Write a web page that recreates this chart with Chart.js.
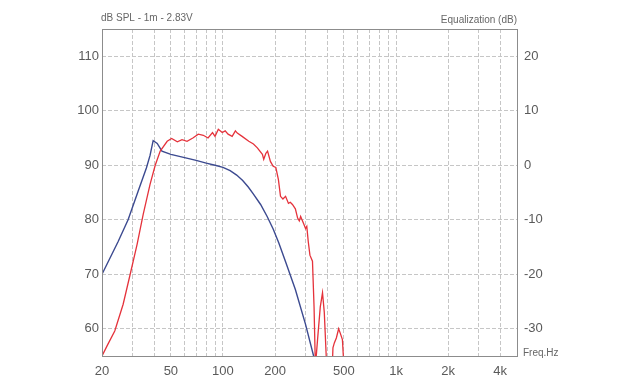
<!DOCTYPE html>
<html lang="en">
<head>
    <meta charset="UTF-8">
    <title>SPL / Equalization</title>
    <script src="https://cdn.jsdelivr.net/npm/chart.js@4.4.1/dist/chart.umd.min.js"></script>
    <style>
        body { margin: 0; background: #fff; }
        #wrap { width: 626px; height: 385px; }
    </style>
</head>
<body>
<div id="wrap"><canvas id="chart"></canvas></div>
<script>
    // frequency response, red curve (Hz / dB SPL)
    const redFreq = [20, 21.5, 23.7, 26.5, 29.1, 31.9, 34.6, 37.9, 40.6, 43.4, 47.6, 50.5, 54.5, 58, 62, 67, 72, 77, 82, 87,
        90, 94, 99, 103, 107, 113, 118, 121, 129, 141, 150, 158, 169, 172, 177, 181, 188, 195, 202, 209,
        215, 222, 230, 239, 245, 252, 262, 270, 276, 281, 293, 300, 305, 311, 318, 329, 336, 342, 352, 365,
        376, 385, 395, 402, 425, 432, 440, 452, 466, 476, 490, 500];
    const redSpl = [55, 57, 59.6, 64.5, 70, 75.5, 81, 86.5, 90, 92.6, 94.4, 94.9, 94.3, 94.7, 94.4, 95, 95.7, 95.5, 95, 96,
        95.3, 96.6, 96, 96.3, 95.7, 95.3, 96.3, 95.9, 95.3, 94.4, 93.9, 93.2, 92, 91.1, 92.2, 92.6, 90.7, 89.8, 89.6, 87.4,
        84.3, 83.8, 84.3, 83, 83.2, 82.8, 82, 80.3, 79.8, 80.6, 79.2, 78.4, 78.8, 76, 73.5, 72.4, 64, 53, 58, 64,
        66.6, 63, 55, 50, 50, 56.5, 57.4, 58.3, 60, 59.2, 58, 53];

    // blue curve
    const blueFreq = [20, 24.8, 28.3, 32.3, 36.1, 37.9, 39.5, 41.7, 44.4, 50, 60, 70, 80, 90, 100, 110, 120, 130, 140, 150,
        165, 180, 195, 210, 230, 262, 300, 334, 360];
    const blueSpl = [70, 76, 80, 85.2, 89.5, 91.8, 94.5, 94, 92.6, 92, 91.4, 90.9, 90.4, 90, 89.6, 89, 88.2, 87.2, 86, 84.7,
        82.8, 80.6, 78.3, 75.8, 72.3, 67.2, 60.8, 55, 50.5];

    // axes
    const gridFreqs = [20, 30, 40, 50, 60, 70, 80, 90, 100, 200, 300, 400, 500, 600, 700, 800, 900, 1000, 2000, 3000, 4000, 5000];
    const labelFreqs = [20, 50, 100, 200, 500, 1000, 2000, 4000];
    const labelTexts = ['20', '50', '100', '200', '500', '1k', '2k', '4k'];
    const splTicks = [60, 70, 80, 90, 100, 110];
    const eqTicks = [-30, -20, -10, 0, 10, 20];

    const toPoints = (xs, ys) => xs.map((x, i) => ({ x: x, y: ys[i] }));

    const font = { family: '"Liberation Sans", Arial, sans-serif', size: 13 };
    const gridColor = '#c6c6c6';

    // outer frame and the three small captions
    const frame = {
        id: 'frame',
        afterDraw(chart) {
            const { ctx, chartArea: a } = chart;
            ctx.save();
            ctx.strokeStyle = '#8c8c8c';
            ctx.lineWidth = 1;
            ctx.strokeRect(Math.round(a.left) + 0.5, Math.round(a.top) + 0.5,
                Math.round(a.right - a.left), Math.round(a.bottom - a.top));
            ctx.font = '10px "Liberation Sans", Arial, sans-serif';
            ctx.fillStyle = '#666';
            ctx.textAlign = 'left';
            ctx.fillText('dB SPL - 1m - 2.83V', a.left - 1, a.top - 8);
            ctx.textAlign = 'right';
            ctx.fillText('Equalization (dB)', a.right, a.top - 6);
            ctx.textAlign = 'left';
            ctx.fillText('Freq.Hz', a.right + 6, a.bottom);
            ctx.restore();
        }
    };

    new Chart(document.getElementById('chart'), {
        type: 'line',
        data: {
            datasets: [
                {
                    label: 'SPL',
                    data: toPoints(redFreq, redSpl),
                    borderColor: '#e5323b',
                    borderWidth: 1.3,
                    pointRadius: 0,
                    tension: 0,
                    clip: 0
                },
                {
                    label: 'SPL 2',
                    data: toPoints(blueFreq, blueSpl),
                    borderColor: '#3c4a90',
                    borderWidth: 1.4,
                    pointRadius: 0,
                    tension: 0,
                    clip: 0
                }
            ]
        },
        options: {
            responsive: true,
            maintainAspectRatio: false,
            animation: false,
            layout: { padding: { top: 29, left: 0, right: 0, bottom: 0 } },
            plugins: {
                legend: { display: false },
                title: { display: false },
                tooltip: { enabled: false }
            },
            scales: {
                x: {
                    type: 'logarithmic',
                    min: 20,
                    max: 5000,
                    afterBuildTicks: s => { s.ticks = gridFreqs.map(v => ({ value: v })); },
                    afterFit: s => { s.height = 29; },
                    ticks: {
                        autoSkip: false,
                        maxRotation: 0,
                        padding: 8,
                        color: '#5a5a5a',
                        font: font,
                        callback: v => {
                            const i = labelFreqs.indexOf(v);
                            return i >= 0 ? labelTexts[i] : '';
                        }
                    },
                    grid: { color: gridColor, drawTicks: false },
                    border: { display: false, dash: [4, 2] }
                },
                y: {
                    position: 'left',
                    min: 55,
                    max: 115,
                    afterBuildTicks: s => { s.ticks = splTicks.map(v => ({ value: v })); },
                    afterFit: s => { s.width = 102; },
                    ticks: { padding: 3, color: '#5a5a5a', font: font },
                    grid: { color: gridColor, drawTicks: false },
                    border: { display: false, dash: [4, 2] }
                },
                y2: {
                    position: 'right',
                    min: -35,
                    max: 25,
                    afterBuildTicks: s => { s.ticks = eqTicks.map(v => ({ value: v })); },
                    afterFit: s => { s.width = 109; },
                    ticks: { padding: 7, color: '#5a5a5a', font: font },
                    grid: { drawOnChartArea: false, drawTicks: false },
                    border: { display: false }
                }
            }
        },
        plugins: [frame]
    });
</script>
</body>
</html>
